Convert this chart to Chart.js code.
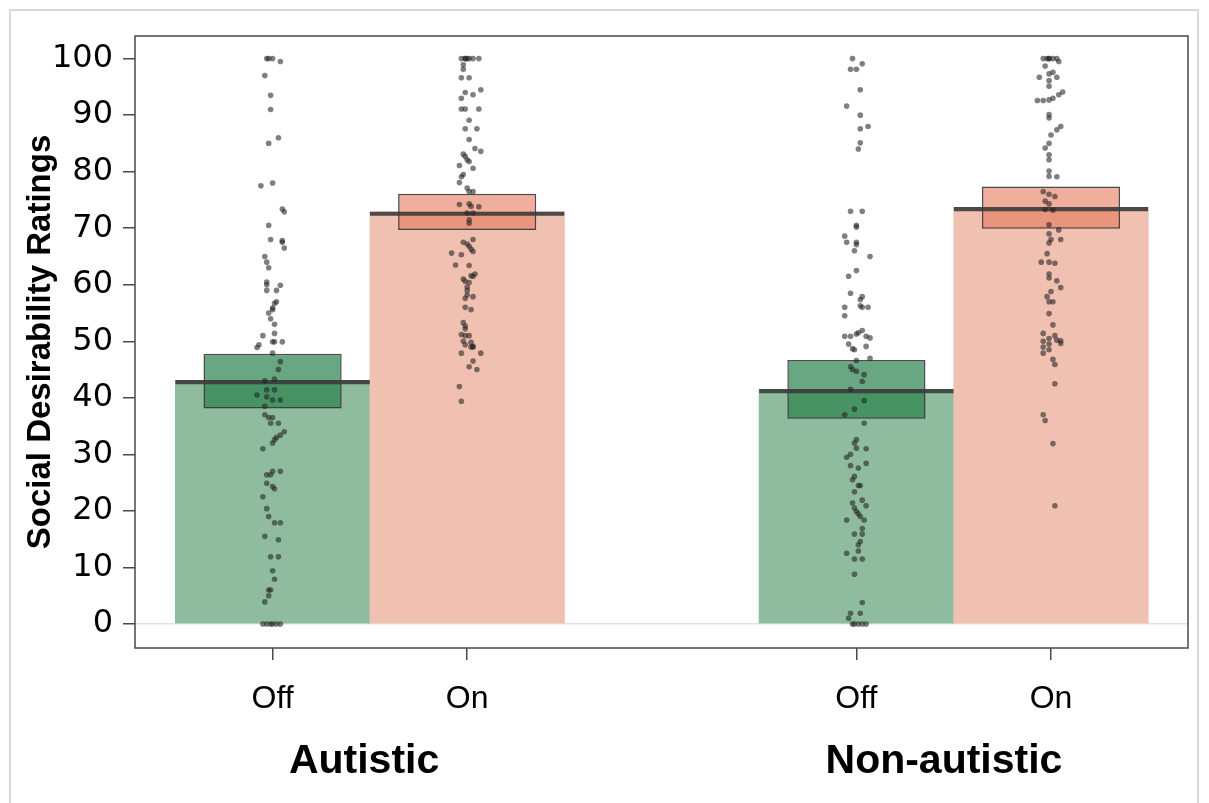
<!DOCTYPE html>
<html>
<head>
<meta charset="utf-8">
<title>Social Desirability Ratings</title>
<script src="https://cdn.jsdelivr.net/npm/chart.js@4/dist/chart.umd.min.js"></script>
<style>
  html, body { margin: 0; padding: 0; background: #fff; }
  #marco { position: absolute; left: 9px; top: 9px; width: 1190px; height: 800px; border: 2px solid #d9d9d9; box-sizing: border-box; }
  #lienzo { position: absolute; left: 0; top: 0; }
</style>
</head>
<body>
<div id="marco"></div>
<canvas id="lienzo" width="1209" height="803"></canvas>
<script>
// Posiciones de las categorias en el eje x (hueco entre grupos)
const posiciones = [0, 1, 3, 4];
const condiciones = ["Off", "On", "Off", "On"];
const grupos = ["Autistic", "Non-autistic"];
const posGrupos = [0.47, 3.45];
const ticksY = [0, 10, 20, 30, 40, 50, 60, 70, 80, 90, 100];

// Medias y limites del intervalo de confianza
const medias = [43.1, 72.9, 41.5, 73.7];
const ciBajo = [38.1, 69.7, 36.3, 69.9];
const ciAlto = [47.8, 76.1, 46.7, 77.4];

// Puntos individuales (valor y desplazamiento horizontal)
const autOffValores = [100, 100, 100, 99.5, 97.0, 93.5, 91.0, 86.0, 85.0, 77.5, 78.0, 73.4, 72.9, 70.5, 68.0, 67.8, 67.5, 66.5, 65.0, 64.0, 63.0, 60.5, 60.0, 59.9, 59.0, 59.0, 57.0, 56.7, 55.9, 55.6, 55.0, 54.0, 53.0, 51.4, 51.0, 49.9, 49.9, 49.9, 49.4, 48.9, 47.9, 46.4, 45.0, 43.0, 43.3, 40.5, 41.4, 41.4, 40.2, 39.6, 39.6, 38.5, 37.0, 36.5, 36.5, 35.5, 35.5, 34.0, 33.4, 33.0, 32.6, 32.0, 31.0, 27.0, 27.0, 26.4, 26.4, 24.9, 24.3, 23.9, 22.5, 20.4, 19.0, 17.9, 17.9, 15.5, 14.9, 11.9, 11.9, 9.4, 7.9, 6.0, 6.0, 5.0, 3.9, 0, 0, 0, 0, 0, 0];
const autOffJitter = [-0.03, -0.02, 0.00, 0.04, -0.04, -0.01, -0.01, 0.03, -0.02, -0.06, 0.00, 0.05, 0.06, -0.02, -0.01, 0.05, 0.05, 0.06, -0.04, -0.03, -0.02, -0.03, -0.03, 0.04, -0.03, 0.02, 0.02, 0.01, 0.00, 0.00, -0.02, -0.01, 0.01, 0.01, -0.05, 0.00, 0.01, 0.05, -0.07, -0.08, 0.00, 0.04, 0.03, -0.04, 0.01, -0.08, -0.03, 0.01, -0.03, 0.04, 0.00, -0.04, -0.04, -0.02, 0.00, -0.01, 0.03, 0.06, 0.04, 0.02, 0.01, 0.00, -0.05, 0.00, 0.04, -0.03, -0.01, -0.03, 0.00, 0.01, -0.05, -0.03, -0.02, 0.01, 0.04, -0.04, 0.03, -0.01, 0.03, 0.00, 0.01, -0.01, -0.02, -0.02, -0.04, -0.05, -0.03, -0.01, 0.00, 0.02, 0.04];

const autOnValores = [100, 100, 100, 100, 100, 100, 100, 98.9, 98.1, 96.6, 96.6, 94.0, 93.6, 94.5, 93.0, 91.1, 91.1, 91.1, 89.1, 87.6, 87.6, 85.7, 84.1, 83.6, 83.1, 82.7, 82.1, 81.8, 81.1, 80.6, 79.5, 79.1, 78.1, 77.1, 76.5, 76.5, 74.2, 74.3, 73.9, 73.8, 72.7, 72.7, 70.9, 71.5, 68.0, 67.5, 67.2, 66.8, 66.3, 65.9, 65.6, 65.3, 63.5, 63.4, 61.9, 61.6, 61.5, 61.0, 60.6, 60.4, 59.6, 59.0, 57.9, 58.2, 57.6, 56.0, 55.6, 53.3, 52.7, 52.2, 51.2, 51.0, 51.0, 50.0, 49.8, 49.4, 49.1, 49.0, 49.0, 47.9, 47.9, 46.5, 45.5, 45.0, 42.0, 39.4];
const autOnJitter = [-0.03, -0.01, -0.01, 0.00, 0.01, 0.03, 0.06, -0.02, -0.02, -0.03, 0.01, -0.01, 0.03, 0.07, -0.03, -0.03, -0.01, 0.06, 0.01, -0.01, 0.05, 0.01, 0.04, 0.07, -0.02, -0.01, 0.00, 0.01, -0.04, 0.03, -0.02, -0.03, -0.04, 0.00, 0.03, 0.01, -0.04, 0.01, 0.02, 0.06, 0.00, 0.03, 0.01, 0.01, 0.03, -0.02, 0.00, 0.01, 0.02, 0.03, -0.08, -0.03, -0.06, 0.01, 0.04, 0.02, 0.03, -0.02, -0.01, 0.01, 0.00, 0.00, 0.03, 0.00, -0.01, -0.01, 0.02, -0.02, -0.01, -0.01, -0.03, -0.01, 0.01, -0.02, 0.02, -0.01, 0.03, 0.02, 0.03, -0.03, 0.07, 0.03, 0.01, 0.05, -0.04, -0.03];

const noOffValores = [100, 99.1, 98.1, 98.1, 94.5, 91.6, 90.0, 87.6, 88.0, 85.1, 84.0, 73.0, 73.0, 70.5, 70.2, 68.6, 67.5, 67.5, 67.1, 66.0, 65.0, 62.5, 61.5, 58.5, 57.9, 57.4, 56.0, 56.3, 56.0, 56.0, 54.5, 51.9, 51.5, 51.3, 50.9, 50.9, 50.9, 50.6, 49.5, 49.1, 48.7, 48.5, 46.6, 47.0, 45.5, 45.0, 44.7, 44.1, 42.9, 41.5, 39.5, 38.0, 37.0, 35.5, 32.6, 32.0, 31.1, 31.0, 30.0, 29.5, 28.4, 28.0, 27.6, 26.1, 25.5, 24.5, 24.5, 23.4, 21.9, 20.9, 21.4, 20.5, 19.9, 19.5, 19.0, 18.4, 18.4, 16.9, 15.9, 15.9, 14.6, 14.0, 12.5, 12.9, 11.5, 11.5, 8.8, 3.8, 1.9, 1.9, 1.0, 0, 0, 0, 0, 0];
const noOffJitter = [-0.02, 0.03, -0.03, 0.00, 0.02, -0.05, 0.02, 0.02, 0.06, 0.02, 0.01, -0.03, 0.03, 0.00, 0.00, -0.06, -0.05, 0.00, 0.00, -0.01, 0.07, 0.00, -0.04, -0.03, 0.03, 0.02, -0.06, 0.02, 0.03, 0.06, -0.06, 0.03, 0.01, 0.00, -0.03, -0.06, 0.05, 0.07, -0.04, 0.05, -0.02, -0.01, 0.00, 0.07, -0.03, -0.02, 0.00, 0.04, 0.03, -0.03, 0.04, -0.01, -0.06, 0.04, 0.00, -0.01, 0.00, 0.05, -0.03, -0.05, 0.05, -0.03, 0.01, -0.01, -0.02, 0.01, 0.02, -0.01, 0.03, 0.05, -0.02, -0.01, 0.00, 0.01, 0.02, 0.04, -0.05, 0.03, 0.03, -0.01, 0.02, 0.01, -0.05, 0.01, -0.01, 0.03, -0.01, 0.03, -0.03, 0.02, -0.04, -0.02, -0.01, 0.01, 0.03, 0.05];

const noOnValores = [100, 100, 100, 100, 100, 100, 99.5, 98.7, 97.6, 97.3, 96.7, 96.7, 96.1, 95.1, 94.1, 93.6, 93.0, 92.7, 92.6, 92.6, 90.1, 89.5, 88.0, 87.4, 86.5, 85.0, 84.2, 83.0, 82.1, 80.1, 79.2, 79.1, 76.5, 76.0, 75.6, 74.8, 74.3, 73.2, 73.3, 70.6, 69.7, 69.0, 68.0, 68.0, 67.4, 65.5, 64.0, 64.0, 63.8, 61.9, 61.2, 60.7, 59.5, 58.8, 57.9, 57.0, 57.0, 54.9, 52.9, 51.4, 51.0, 50.5, 50.2, 50.1, 50.0, 49.5, 49.0, 49.6, 48.5, 47.9, 46.8, 45.9, 42.5, 37.0, 36.0, 31.9, 20.9];
const noOnJitter = [-0.04, -0.02, -0.01, -0.01, 0.01, 0.03, 0.04, -0.03, 0.01, -0.01, -0.06, 0.03, -0.01, -0.01, 0.06, 0.04, 0.01, -0.01, -0.07, -0.04, -0.01, -0.01, 0.05, 0.03, 0.00, -0.01, -0.03, -0.01, -0.01, -0.01, -0.01, 0.03, -0.04, -0.01, 0.02, -0.03, -0.01, 0.01, -0.03, -0.01, 0.04, -0.01, 0.00, 0.05, -0.01, -0.02, -0.05, -0.01, 0.02, -0.01, -0.01, 0.03, 0.05, 0.00, -0.02, -0.01, 0.01, -0.01, 0.01, -0.04, 0.02, -0.01, 0.03, 0.05, -0.04, -0.01, -0.04, 0.05, -0.01, -0.04, 0.01, 0.02, 0.02, -0.04, -0.03, 0.01, 0.02];

const coloresBarra = ["#8fbc9f", "#f0c1b1", "#8fbc9f", "#f0c1b1"];
const coloresCaja = ["rgba(40,130,75,0.7)", "rgba(230,120,90,0.6)", "rgba(40,130,75,0.7)", "rgba(230,120,90,0.6)"];

// Juntar los puntos de cada grupo con su posicion en x
function puntos(indice, valores, jitter) {
  return valores.map((v, i) => ({ x: posiciones[indice] + jitter[i], y: v }));
}
const todosLosPuntos = [].concat(
  puntos(0, autOffValores, autOffJitter),
  puntos(1, autOnValores, autOnJitter),
  puntos(2, noOffValores, noOffJitter),
  puntos(3, noOnValores, noOnJitter)
);

// Marco del area del grafico y nombres de los grupos bajo el eje x
const marcoPlugin = {
  id: "marco",
  afterDraw(chart) {
    const { ctx, chartArea } = chart;
    const escalaX = chart.scales.x;
    ctx.save();
    ctx.strokeStyle = "#4a4a4a";
    ctx.lineWidth = 1.5;
    ctx.strokeRect(chartArea.left, chartArea.top, chartArea.right - chartArea.left, chartArea.bottom - chartArea.top);

    ctx.fillStyle = "#000";
    ctx.font = "bold 41px 'Liberation Sans'";
    ctx.textAlign = "center";
    ctx.textBaseline = "middle";
    grupos.forEach((g, i) => {
      ctx.fillText(g, escalaX.getPixelForValue(posGrupos[i]), chartArea.bottom + 114);
    });
    ctx.restore();
  },
};

const ctx = document.getElementById("lienzo").getContext("2d");
const chart = new Chart(ctx, {
  type: "bar",
  data: {
    datasets: [
      {
        type: "scatter",
        data: todosLosPuntos,
        backgroundColor: "rgba(35,35,35,0.58)",
        borderWidth: 0,
        pointRadius: 2.8,
        order: 0,
      },
      {
        type: "bar",
        data: posiciones.map((p, i) => ({ x: p, y: medias[i] })),
        backgroundColor: "rgba(0,0,0,0)",
        borderColor: "rgba(60,60,60,0.9)",
        borderWidth: { top: 3.5, right: 0, bottom: 0, left: 0 },
        borderSkipped: false,
        grouped: false,
        barPercentage: 1,
        categoryPercentage: 1,
        order: 1,
      },
      {
        type: "bar",
        data: posiciones.map((p, i) => ({ x: p, y: [ciBajo[i], ciAlto[i]] })),
        backgroundColor: coloresCaja,
        borderColor: "rgba(45,45,45,0.85)",
        borderWidth: 1.5,
        borderSkipped: false,
        grouped: false,
        barPercentage: 0.71,
        categoryPercentage: 1,
        order: 2,
      },
      {
        type: "bar",
        data: posiciones.map((p, i) => ({ x: p, y: medias[i] })),
        backgroundColor: coloresBarra,
        borderWidth: 0,
        grouped: false,
        barPercentage: 1,
        categoryPercentage: 1,
        order: 3,
      },
    ],
  },
  options: {
    responsive: false,
    animation: false,
    layout: { padding: { left: 0, top: 36, right: 21, bottom: 0 } },
    plugins: {
      legend: { display: false },
      tooltip: { enabled: false },
    },
    scales: {
      x: {
        type: "linear",
        position: "bottom",
        min: -0.707,
        max: 4.704,
        offset: false,
        stacked: false,
        border: { display: false },
        grid: { color: "rgba(0,0,0,0)", tickColor: "#4a4a4a", tickLength: 12, lineWidth: 1.5, offset: false },
        afterBuildTicks: (scale) => {
          scale.ticks = posiciones.map((p) => ({ value: p }));
        },
        ticks: {
          autoSkip: false,
          maxRotation: 0,
          padding: 20,
          color: "#000",
          font: { family: "Liberation Sans", size: 32 },
          callback: (value, index) => condiciones[index],
        },
        afterFit: (scale) => { scale.height = 155; },
      },
      y: {
        min: -4.25,
        max: 104.0,
        stacked: false,
        border: { display: false },
        grid: {
          color: (c) => (c.tick && c.tick.value === 0 ? "#e2e2e2" : "rgba(0,0,0,0)"),
          tickColor: "#4a4a4a",
          tickLength: 12,
          lineWidth: 1.5,
        },
        afterBuildTicks: (scale) => {
          scale.ticks = ticksY.map((v) => ({ value: v }));
        },
        ticks: {
          padding: 10,
          color: "#000",
          font: { family: "DejaVu Sans", size: 32 },
        },
        title: {
          display: true,
          text: "Social Desirability Ratings",
          color: "#000",
          align: "center",
          padding: { top: 21, bottom: 0 },
          font: { family: "Liberation Sans", size: 33, weight: "bold" },
        },
        afterFit: (scale) => { scale.width = 135; },
      },
    },
  },
  plugins: [marcoPlugin],
});
</script>
</body>
</html>
